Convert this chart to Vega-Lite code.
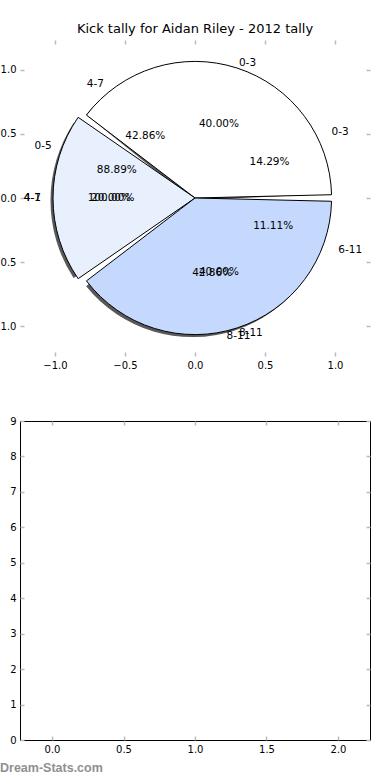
{
  "$schema": "https://vega.github.io/schema/vega-lite/v6.json",
  "autosize": "none",
  "padding": {"left": 20, "top": 40, "right": 370, "bottom": 740},
  "bounds": "flush",
  "spacing": 65,
  "config": {
    "font": "DejaVu Sans",
    "axis": {
      "labelFont": "DejaVu Sans",
      "labelFontSize": 10,
      "labelColor": "black",
      "tickColor": "#bbbbbb",
      "tickWidth": 1.5,
      "tickSize": -4,
      "labelPadding": 8,
      "domain": false,
      "grid": false,
      "labelFlush": false,
      "labelOverlap": false
    }
  },
  "data": {
    "values": [
      {"pie": 1, "cat": "0-3", "share": 0.4, "idx": 0},
      {"pie": 1, "cat": "4-7", "share": 0.2, "idx": 1},
      {"pie": 1, "cat": "8-11", "share": 0.4, "idx": 2},
      {"pie": 2, "cat": "0-3", "share": 0.1429, "idx": 0},
      {"pie": 2, "cat": "4-7", "share": 0.4286, "idx": 1},
      {"pie": 2, "cat": "8-11", "share": 0.4286, "idx": 2},
      {"pie": 3, "cat": "0-5", "share": 0.8889, "idx": 0},
      {"pie": 3, "cat": "6-11", "share": 0.1111, "idx": 1},
      {"pie": 4, "cat": "4-1", "share": 1.0, "idx": 0}
    ]
  },
  "vconcat": [
    {
      "width": 350,
      "height": 316,
      "view": {"stroke": null},
      "title": {
        "text": "Kick tally for Aidan Riley - 2012 tally",
        "font": "DejaVu Sans",
        "fontSize": 13,
        "fontWeight": "normal",
        "color": "black",
        "anchor": "middle",
        "baseline": "alphabetic",
        "offset": -7
      },
      "layer": [
        {
          "mark": {"type": "point", "opacity": 0},
          "encoding": {
            "x": {"datum": 0, "type": "quantitative", "scale": {"domain": [-1.25, 1.25], "nice": false, "zero": false}, "axis": {"orient": "bottom", "values": [-1, -0.5, 0, 0.5, 1], "format": ".1f", "title": null}},
            "y": {"datum": 0, "type": "quantitative", "scale": {"domain": [-1.234, 1.234], "nice": false, "zero": false}, "axis": {"orient": "left", "values": [-1, -0.5, 0, 0.5, 1], "format": ".1f", "title": null}}
          }
        },
        {
          "mark": {"type": "point", "opacity": 0},
          "encoding": {
            "x": {"datum": 0, "type": "quantitative", "scale": {"domain": [-1.25, 1.25], "nice": false, "zero": false}, "axis": {"orient": "top", "values": [-1, -0.5, 0, 0.5, 1], "labels": false, "title": null}},
            "y": {"datum": 0, "type": "quantitative", "scale": {"domain": [-1.234, 1.234], "nice": false, "zero": false}, "axis": {"orient": "right", "values": [-1, -0.5, 0, 0.5, 1], "labels": false, "title": null}}
          }
        },
        {
          "transform": [{"filter": "datum.pie == 1"}],
          "encoding": {
            "theta": {"field": "share", "type": "quantitative", "stack": "normalize", "scale": {"domain": [0, 1], "range": [1.5707963, 7.8539816]}},
            "order": {"field": "idx", "sort": "descending"}
          },
          "layer": [
            {"mark": {"type": "arc", "radius": {"expr": "72 + 0.5 * sqrt(pow(140 * cos(PI * (datum.share_start + datum.share_end)), 2) + pow(128 * sin(PI * (datum.share_start + datum.share_end)), 2))"}, "padAngle": 0.1, "fill": "#222222", "fillOpacity": 0.75, "xOffset": -2.5, "yOffset": 2.5}},
            {
              "mark": {"type": "arc", "radius": {"expr": "72 + 0.5 * sqrt(pow(140 * cos(PI * (datum.share_start + datum.share_end)), 2) + pow(128 * sin(PI * (datum.share_start + datum.share_end)), 2))"}, "padAngle": 0.048, "stroke": "black", "strokeWidth": 1},
              "encoding": {"color": {"field": "idx", "type": "nominal", "scale": {"domain": [0, 1, 2], "range": ["#ffffff", "#e8f0fe", "#c5d8fd"]}, "legend": null}}
            },
            {
              "mark": {"type": "text", "radius": {"expr": "0.6 * sqrt(pow(140 * cos(PI * (datum.share_start + datum.share_end)), 2) + pow(128 * sin(PI * (datum.share_start + datum.share_end)), 2))"}, "fontSize": 10.5, "font": "DejaVu Sans", "color": "black"},
              "encoding": {"text": {"field": "share", "type": "quantitative", "format": ".2%"}}
            },
            {
              "mark": {"type": "text", "radius": {"expr": "1.1 * sqrt(pow(140 * cos(PI * (datum.share_start + datum.share_end)), 2) + pow(128 * sin(PI * (datum.share_start + datum.share_end)), 2))"}, "fontSize": 10.5, "font": "DejaVu Sans", "color": "black", "baseline": "middle", "align": {"expr": "(datum.share_start + datum.share_end) / 2 > 0.25 && (datum.share_start + datum.share_end) / 2 < 0.75 ? 'right' : 'left'"}},
              "encoding": {"text": {"field": "cat", "type": "nominal"}}
            }
          ]
        },
        {
          "transform": [{"filter": "datum.pie == 2"}],
          "encoding": {
            "theta": {"field": "share", "type": "quantitative", "stack": "normalize", "scale": {"domain": [0, 1], "range": [1.5707963, 7.8539816]}},
            "order": {"field": "idx", "sort": "descending"}
          },
          "layer": [
            {
              "mark": {"type": "text", "radius": {"expr": "0.6 * sqrt(pow(140 * cos(PI * (datum.share_start + datum.share_end)), 2) + pow(128 * sin(PI * (datum.share_start + datum.share_end)), 2))"}, "fontSize": 10.5, "font": "DejaVu Sans", "color": "black"},
              "encoding": {"text": {"field": "share", "type": "quantitative", "format": ".2%"}}
            },
            {
              "mark": {"type": "text", "radius": {"expr": "1.1 * sqrt(pow(140 * cos(PI * (datum.share_start + datum.share_end)), 2) + pow(128 * sin(PI * (datum.share_start + datum.share_end)), 2))"}, "fontSize": 10.5, "font": "DejaVu Sans", "color": "black", "baseline": "middle", "align": {"expr": "(datum.share_start + datum.share_end) / 2 > 0.25 && (datum.share_start + datum.share_end) / 2 < 0.75 ? 'right' : 'left'"}},
              "encoding": {"text": {"field": "cat", "type": "nominal"}}
            }
          ]
        },
        {
          "transform": [{"filter": "datum.pie == 3"}],
          "encoding": {
            "theta": {"field": "share", "type": "quantitative", "stack": "normalize", "scale": {"domain": [0, 1], "range": [1.5707963, 7.8539816]}},
            "order": {"field": "idx", "sort": "descending"}
          },
          "layer": [
            {
              "mark": {"type": "text", "radius": {"expr": "0.6 * sqrt(pow(140 * cos(PI * (datum.share_start + datum.share_end)), 2) + pow(128 * sin(PI * (datum.share_start + datum.share_end)), 2))"}, "fontSize": 10.5, "font": "DejaVu Sans", "color": "black"},
              "encoding": {"text": {"field": "share", "type": "quantitative", "format": ".2%"}}
            },
            {
              "mark": {"type": "text", "radius": {"expr": "1.1 * sqrt(pow(140 * cos(PI * (datum.share_start + datum.share_end)), 2) + pow(128 * sin(PI * (datum.share_start + datum.share_end)), 2))"}, "fontSize": 10.5, "font": "DejaVu Sans", "color": "black", "baseline": "middle", "align": {"expr": "(datum.share_start + datum.share_end) / 2 > 0.25 && (datum.share_start + datum.share_end) / 2 < 0.75 ? 'right' : 'left'"}},
              "encoding": {"text": {"field": "cat", "type": "nominal"}}
            }
          ]
        },
        {
          "transform": [{"filter": "datum.pie == 4"}],
          "encoding": {
            "theta": {"field": "share", "type": "quantitative", "stack": "normalize", "scale": {"domain": [0, 1], "range": [1.5707963, 7.8539816]}},
            "order": {"field": "idx", "sort": "descending"}
          },
          "layer": [
            {
              "mark": {"type": "text", "radius": {"expr": "0.6 * sqrt(pow(140 * cos(PI * (datum.share_start + datum.share_end)), 2) + pow(128 * sin(PI * (datum.share_start + datum.share_end)), 2))"}, "fontSize": 10.5, "font": "DejaVu Sans", "color": "black"},
              "encoding": {"text": {"field": "share", "type": "quantitative", "format": ".2%"}}
            },
            {
              "mark": {"type": "text", "radius": {"expr": "1.1 * sqrt(pow(140 * cos(PI * (datum.share_start + datum.share_end)), 2) + pow(128 * sin(PI * (datum.share_start + datum.share_end)), 2))"}, "fontSize": 10.5, "font": "DejaVu Sans", "color": "black", "baseline": "middle", "align": {"expr": "(datum.share_start + datum.share_end) / 2 > 0.25 && (datum.share_start + datum.share_end) / 2 < 0.75 ? 'right' : 'left'"}},
              "encoding": {"text": {"field": "cat", "type": "nominal"}}
            }
          ]
        }
      ],
      "resolve": {"axis": {"x": "independent", "y": "independent"}}
    },
    {
      "width": 350,
      "height": 319,
      "view": {"stroke": "black", "strokeWidth": 1},
      "title": {
        "text": "Dream-Stats.com",
        "orient": "bottom",
        "anchor": "start",
        "frame": "group",
        "dx": -20,
        "offset": 18,
        "baseline": "alphabetic",
        "font": "Liberation Sans",
        "fontSize": 12.5,
        "fontWeight": "bold",
        "color": "#909090"
      },
      "layer": [
        {
          "mark": {"type": "point", "opacity": 0},
          "encoding": {
            "x": {"datum": 0, "type": "quantitative", "scale": {"domain": [-0.224, 2.224], "nice": false, "zero": false}, "axis": {"orient": "bottom", "values": [0, 0.5, 1, 1.5, 2], "format": ".1f", "title": null}},
            "y": {"datum": 0, "type": "quantitative", "scale": {"domain": [0, 9], "nice": false, "zero": false}, "axis": {"orient": "left", "values": [0, 1, 2, 3, 4, 5, 6, 7, 8, 9], "format": "d", "title": null}}
          }
        },
        {
          "mark": {"type": "point", "opacity": 0},
          "encoding": {
            "x": {"datum": 0, "type": "quantitative", "scale": {"domain": [-0.224, 2.224], "nice": false, "zero": false}, "axis": {"orient": "top", "values": [0, 0.5, 1, 1.5, 2], "labels": false, "title": null}},
            "y": {"datum": 0, "type": "quantitative", "scale": {"domain": [0, 9], "nice": false, "zero": false}, "axis": {"orient": "right", "values": [0, 1, 2, 3, 4, 5, 6, 7, 8, 9], "labels": false, "title": null}}
          }
        }
      ],
      "resolve": {"axis": {"x": "independent", "y": "independent"}}
    }
  ]
}
